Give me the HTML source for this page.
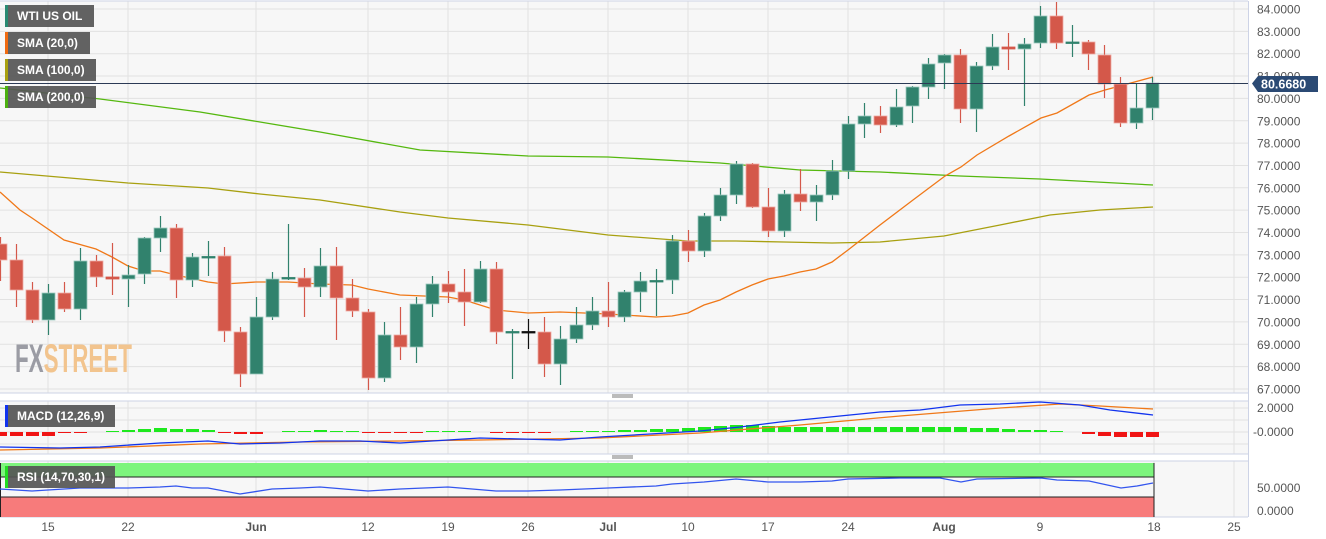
<!DOCTYPE html>
<html><head><meta charset="utf-8"><style>
html,body{margin:0;padding:0;background:#fff;width:1326px;height:539px;overflow:hidden}
svg{display:block;font-family:"Liberation Sans",sans-serif}
</style></head><body>
<svg id="s" width="1326" height="539" xmlns="http://www.w3.org/2000/svg"></svg>
<script>
const S=document.getElementById('s');let h='';
const yP=p=>9+(84-p)*22.35;
h+='<rect x="0" y="1" width="1248" height="392" fill="#f7f7f7"/>';
h+='<rect x="0" y="401" width="1248" height="53" fill="#f7f7f7"/>';
h+='<rect x="0" y="461" width="1248" height="56" fill="#f7f7f7"/>';
const vx=[48,128,256,368,448,528,608,688,768,848,944,1040,1154,1234];
for(let p=67;p<=84;p++){h+=`<line x1="0" x2="1248" y1="${yP(p)}" y2="${yP(p)}" stroke="#e2e2e2"/>`;}
for(const x of vx){h+=`<line x1="${x}" x2="${x}" y1="1" y2="393" stroke="#e2e2e2"/><line x1="${x}" x2="${x}" y1="401" y2="454" stroke="#e2e2e2"/><line x1="${x}" x2="${x}" y1="461" y2="517" stroke="#e2e2e2"/>`;}
[408,420,432,444].forEach(y=>h+=`<line x1="0" x2="1248" y1="${y}" y2="${y}" stroke="#e2e2e2"/>`);
h+='<line x1="0" x2="1248" y1="1" y2="1" stroke="#cdd3e6"/><line x1="1248.5" x2="1248.5" y1="1" y2="517" stroke="#cdd3e6"/>';
h+='<line x1="0" x2="1248" y1="393" y2="393" stroke="#cdd3e6"/><line x1="0" x2="1248" y1="401" y2="401" stroke="#cdd3e6"/><line x1="0" x2="1248" y1="454" y2="454" stroke="#cdd3e6"/><line x1="0" x2="1248" y1="461" y2="461" stroke="#cdd3e6"/><line x1="0" x2="1248" y1="517" y2="517" stroke="#cdd3e6"/>';
h+='<line x1="612" x2="633" y1="395" y2="395" stroke="#777"/><line x1="612" x2="633" y1="397" y2="397" stroke="#777"/><line x1="612" x2="633" y1="456" y2="456" stroke="#777"/><line x1="612" x2="633" y1="458" y2="458" stroke="#777"/>';
h+='<g transform="translate(15,372) scale(0.56,1)" font-size="40" font-weight="bold"><text fill="#9b9ca4">FX<tspan fill="#f2c48e">STREET</tspan></text></g>';
const pl=(pts,c)=>`<polyline fill="none" stroke="${c}" stroke-width="1.3" points="${pts.map(p=>p.join(',')).join(' ')}"/>`;
h+=pl([[0,88],[100,99],[200,112],[320,132],[420,150],[528,156],[608,157],[720,163],[800,170],[880,172],[960,176],[1040,179],[1153,185]],'#55b80f');
h+=pl([[0,172],[128,183],[208,188],[260,194],[320,200],[400,212],[448,218],[528,225],[608,235],[688,241],[736,241],[784,242],[832,243],[880,242],[944,236],[1000,225],[1050,215],[1100,210],[1153,207]],'#a8a010');
h+=pl([[0,192],[20,210],[32,218],[64,240],[96,249],[112,257],[128,266],[144,271],[160,271],[176,275],[208,282],[224,284],[256,282],[288,282],[320,284],[352,285],[368,289],[400,295],[448,297],[464,300],[496,310],[528,313],[560,312],[608,314],[656,317],[672,316],[688,313],[704,305],[720,300],[736,292],[752,285],[768,279],[784,276],[800,272],[816,269],[832,262],[848,250],[880,225],[913,200],[945,176],[961,167],[977,155],[1009,136],[1041,118],[1057,113],[1089,95],[1105,90],[1153,77]],'#f07818');
const C=[[244,260,237,281,0],[260,290,244,307,0],[290,320,282,323,0],[293,320,284,335,1],[293,309,282,312,0],[261,309,248,320,1],[261,277,255,287,0],[277,279,243,295,0],[275,279,265,307,1],[238,274,237,284,1],[228,238,216,252,1],[228,280,224,298,0],[257,280,253,287,1],[256.5,257.5,241,276,1],[256,331,247,342,0],[332,374,327,387,0],[317,374,297,374,1],[279,317,272,320,1],[277.5,278.5,224,280,1],[278,287,268,317,0],[266,287,248,297,1],[266,298,247,340,0],[298,311,279,317,0],[312,378,309,390,0],[335,378,322,382,1],[335,347,307,360,0],[304,347,297,363,1],[284,304,276,317,1],[284,292,271,303,0],[292,302,269,326,0],[269,302,261,303,1],[269,332,262,344,0],[331.5,332.5,329,379,1],[331.5,332.5,319,349,2],[332,364,317,377,0],[339,364,326,385,1],[325,339,307,343,1],[311,325,297,330,1],[311,317,282,327,0],[292,317,290,322,1],[281,292,272,312,1],[280.5,281.5,269,316,1],[241,280,235,294,1],[241,251,230,262,0],[216,251,213,257,1],[195,216,188,221,1],[164,195,161,204,1],[164,207,163,208,0],[207,231,188,237,0],[194,231,190,237,1],[194,202,169,211,0],[195,202,185,221,1],[171,195,160,200,1],[124,171,116,179,1],[116,124,103,138,1],[116,125,106,133,0],[107,125,89,127,1],[87,106,86,123,1],[64,87,58,99,1],[55,63,54,89,1],[55,109,49,123,0],[66,109,62,132,1],[47,66,34,70,1],[47,49,33,70,0],[44,49,38,106,1],[16,43,6,48,1],[16,43,2,49,0],[42,43,25,57,1],[42,54,40,70,0],[55,84,45,98,0],[84,123,77,127,0],[108,123,84,129,1],[83,108,77,120,1]];
C.forEach((c,i)=>{const x=i*16;const col=c[4]==1?'#31826d':c[4]==2?'#111':'#d4584a';const bc=c[4]==1?'#9cc9bd':c[4]==2?'#111':'#eeaaa2';
h+=`<line x1="${x+0.5}" x2="${x+0.5}" y1="${c[2]}" y2="${c[3]}" stroke="${col}" stroke-width="1.2"/>`;
const hh=Math.max(c[1]-c[0],1.5);
h+=`<rect x="${x-6}" y="${c[0]}" width="13" height="${hh}" fill="${col}" stroke="${hh>3?bc:col}" stroke-width="0.8"/>`;});
h+='<line x1="0" x2="1248" y1="83.5" y2="83.5" stroke="#2b3a55" stroke-width="1"/>';
for(let p=67;p<=84;p++){h+=`<text x="1257" y="${yP(p)+4.5}" font-size="12" fill="#555">${p}.0000</text>`;}
h+='<path d="M1252,83.5 L1258,76 L1318,76 L1318,92 L1258,92 Z" fill="#2b4a74"/><text x="1261" y="88.5" font-size="12.5" font-weight="bold" fill="#fff">80.6680</text>';
h+='<text x="1257" y="412" font-size="12" fill="#555">2.0000</text><text x="1253" y="436" font-size="12" fill="#555">-0.0000</text>';
h+='<text x="1257" y="492" font-size="12" fill="#555">50.0000</text><text x="1257" y="515" font-size="12" fill="#555">0.0000</text>';
const lab=[['15',48],['22',128],['Jun',256,1],['12',368],['19',448],['26',528],['Jul',608,1],['10',688],['17',768],['24',848],['Aug',944,1],['9',1040],['18',1154],['25',1234]];
lab.forEach(l=>h+=`<text x="${l[1]}" y="531" font-size="12" fill="#555" text-anchor="middle" ${l[2]?'font-weight="bold"':''}>${l[0]}</text>`);
const H=[-4,-4,-4,-4,-1,-1,0,1,2,3,4,3,3,2,-1,-2,-2,0,1,1,2,1,1,-1,-1,-1,-1,1,1,1,0,-1,-1,-1,-1,0,1,1,1,2,2,3,3,4,5,6,7,7,6,5,5,5,5,5,5,5,5,5,5,5,5,4,4,3,2,2,1,0,-2,-4,-5,-5,-5];
H.forEach((v,i)=>{const x=i*16;if(v==0)return;const c=v>0?'#1ee81e':'#f01414';const y=v>0?432-v:432;h+=`<rect x="${x-6}" y="${y}" width="13" height="${Math.abs(v)}" fill="${c}"/>`;});
h+=pl([[0,450],[100,448],[200,444],[300,442],[400,441],[480,440],[600,438],[700,433],[800,425],[900,416],[1000,408],[1060,404],[1100,406],[1153,409]],'#f07818');
h+=pl([[0,447],[60,448],[100,447],[160,443],[208,441],[240,444],[280,443],[320,441],[360,441],[400,443],[480,438],[560,440],[600,437],[650,434],[700,431],[740,427],[780,422],[820,418],[880,412],[920,410],[960,405],[1000,404],[1040,402],[1080,405],[1110,410],[1153,415]],'#1133ee');
h+='<rect x="0" y="463" width="1154" height="14" fill="#7df57d"/><line x1="0" x2="1154" y1="477" y2="477" stroke="#222"/>';
h+='<rect x="0" y="497" width="1154" height="20" fill="#f77b7b"/><line x1="0" x2="1154" y1="497" y2="497" stroke="#222"/>';
h+='<line x1="1154" x2="1154" y1="463" y2="517" stroke="#222"/><line x1="0.5" x2="0.5" y1="463" y2="517" stroke="#222"/>';
h+=pl([[0,489],[32,491],[64,489],[80,488],[96,488],[128,488],[160,487],[176,486],[192,488],[208,488],[240,494],[272,489],[300,488],[320,487],[368,491],[400,489],[448,487],[496,491],[528,491],[560,490],[608,488],[656,486],[672,484],[704,482],[736,479],[768,482],[800,482],[832,481],[848,479],[900,478],[940,478],[961,482],[977,479],[1041,478],[1057,480],[1089,481],[1121,488],[1137,486],[1153,483]],'#3355ee');
const lg=(y,w,t,c)=>`<rect x="5" y="${y}" width="${w}" height="22" fill="#555" opacity="0.92"/><rect x="5" y="${y}" width="3" height="22" fill="${c}"/><text x="17" y="${y+15}" font-size="12" font-weight="bold" fill="#fff">${t}</text>`;
h+=lg(5,89,'WTI US OIL','#2a8a72')+lg(32,85,'SMA (20,0)','#f06a10')+lg(59,91,'SMA (100,0)','#a8a010')+lg(86,91,'SMA (200,0)','#4cb010');
h+=lg(405,110,'MACD (12,26,9)','#1133ee')+lg(466,110,'RSI (14,70,30,1)','#22dd22');
S.innerHTML=h;
</script>
</body></html>
